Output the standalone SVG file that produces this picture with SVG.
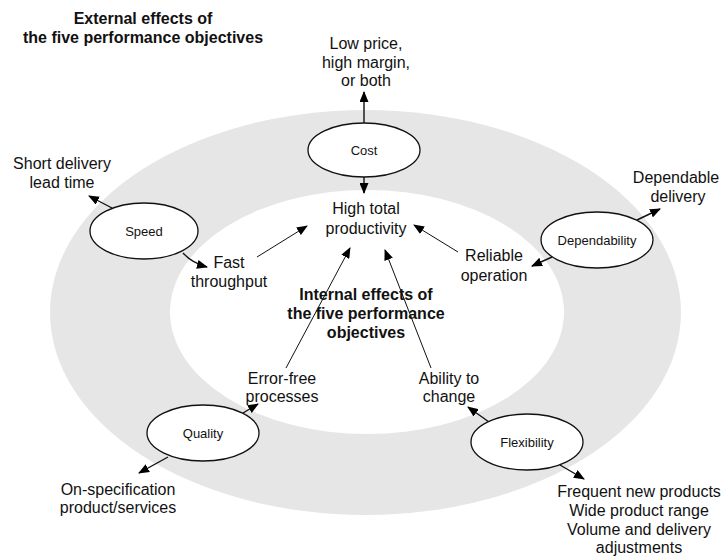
<svg xmlns="http://www.w3.org/2000/svg" width="726" height="556" viewBox="0 0 726 556">
<defs>
<marker id="ah" markerUnits="userSpaceOnUse" markerWidth="11" markerHeight="9" refX="10" refY="4.5" orient="auto">
<path d="M0,0 L11,4.5 L0,9 z" fill="#000"/>
</marker>
<style>
.lbl{font-family:"Liberation Sans",Arial,sans-serif;font-size:16px;fill:#111;text-anchor:middle}
.bold{font-weight:bold}
.nlbl{font-family:"Liberation Sans",Arial,sans-serif;font-size:13px;fill:#111;text-anchor:middle}
.node{fill:#fff;stroke:#111;stroke-width:1.3}
.arr{stroke:#111;stroke-width:1.4;fill:none;marker-end:url(#ah)}
.thin{stroke-width:1}
</style>
</defs>
<rect width="726" height="556" fill="#fff"/>
<g id="ring">
<ellipse cx="365.5" cy="312.5" rx="315.5" ry="202.5" fill="#e6e6e6"/>
<ellipse cx="367" cy="312" rx="197" ry="122" fill="#fff"/>
</g>
<g id="texts">
<text class="lbl bold" x="143" y="24">External effects of</text>
<text class="lbl bold" x="143" y="43">the five performance objectives</text>
<text class="lbl" x="366" y="49">Low price,</text>
<text class="lbl" x="366" y="68">high margin,</text>
<text class="lbl" x="366" y="86">or both</text>
<text class="lbl" x="62" y="169">Short delivery</text>
<text class="lbl" x="62" y="188">lead time</text>
<text class="lbl" x="366" y="214">High total</text>
<text class="lbl" x="366" y="234">productivity</text>
<text class="lbl" x="229" y="268">Fast</text>
<text class="lbl" x="229" y="287">throughput</text>
<text class="lbl" x="494" y="261">Reliable</text>
<text class="lbl" x="494" y="281">operation</text>
<text class="lbl" x="676" y="183">Dependable</text>
<text class="lbl" x="678" y="202">delivery</text>
<text class="lbl bold" x="366" y="300">Internal effects of</text>
<text class="lbl bold" x="366" y="319">the five performance</text>
<text class="lbl bold" x="366" y="338">objectives</text>
<text class="lbl" x="282" y="384">Error-free</text>
<text class="lbl" x="282" y="402">processes</text>
<text class="lbl" x="449" y="384">Ability to</text>
<text class="lbl" x="449" y="402">change</text>
<text class="lbl" x="118" y="495">On-specification</text>
<text class="lbl" x="118" y="513">product/services</text>
<text class="lbl" x="639" y="497">Frequent new products</text>
<text class="lbl" x="639" y="516">Wide product range</text>
<text class="lbl" x="639" y="535">Volume and delivery</text>
<text class="lbl" x="639" y="553">adjustments</text>
</g>
<g id="connectors">
<line class="arr" x1="364" y1="123" x2="364" y2="92"/>
<line class="arr" x1="364" y1="177" x2="364" y2="193"/>
<line class="arr" x1="112" y1="208" x2="89" y2="196"/>
<path class="arr" d="M183,253 Q192,263 207,267"/>
<line class="arr thin" x1="257" y1="257" x2="307" y2="226"/>
<line class="arr thin" x1="458" y1="252" x2="414" y2="225"/>
<line class="arr thin" x1="286" y1="368" x2="350" y2="248"/>
<line class="arr thin" x1="431" y1="368" x2="385" y2="250"/>
<line class="arr" x1="637" y1="220" x2="660" y2="209"/>
<line class="arr" x1="552" y1="257" x2="532" y2="266"/>
<line class="arr" x1="243" y1="413" x2="258" y2="404"/>
<line class="arr" x1="168" y1="457" x2="139" y2="473"/>
<line class="arr" x1="489" y1="422" x2="468" y2="407"/>
<line class="arr" x1="560" y1="465" x2="584" y2="479"/>
</g>
<g id="cost"><ellipse class="node" cx="364" cy="150" rx="56" ry="27"/><text class="nlbl" x="364" y="155">Cost</text></g>
<g id="speed"><ellipse class="node" cx="144" cy="231" rx="54" ry="28"/><text class="nlbl" x="144" y="236">Speed</text></g>
<g id="dependability"><ellipse class="node" cx="597" cy="240" rx="56" ry="28"/><text class="nlbl" x="597" y="245">Dependability</text></g>
<g id="quality"><ellipse class="node" cx="203" cy="433" rx="56" ry="28"/><text class="nlbl" x="203" y="438">Quality</text></g>
<g id="flexibility"><ellipse class="node" cx="527" cy="442" rx="56" ry="28"/><text class="nlbl" x="527" y="447">Flexibility</text></g>
</svg>
